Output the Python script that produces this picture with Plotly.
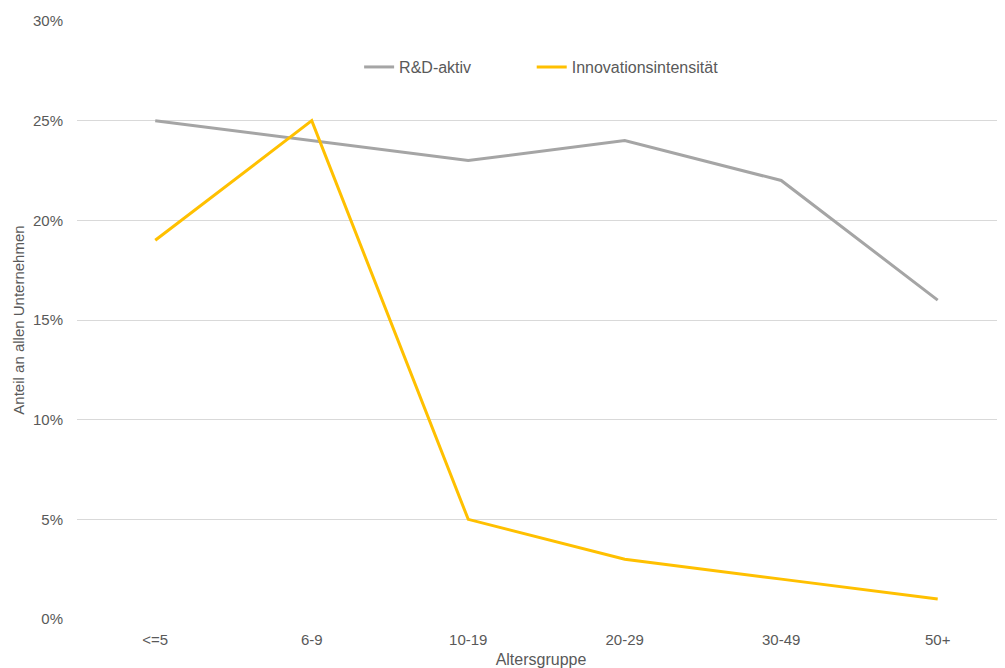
import plotly.graph_objects as go

categories = ["<=5", "6-9", "10-19", "20-29", "30-49", "50+"]
rnd_aktiv = [0.25, 0.24, 0.23, 0.24, 0.22, 0.16]
innovationsintensitaet = [0.19, 0.25, 0.05, 0.03, 0.02, 0.01]

font_color = "#595959"

fig = go.Figure()
fig.add_trace(
    go.Scatter(
        x=categories,
        y=rnd_aktiv,
        mode="lines",
        name="R&D-aktiv",
        line={"color": "#A5A5A5", "width": 3},
        legend="legend",
        showlegend=True,
    )
)
fig.add_trace(
    go.Scatter(
        x=categories,
        y=innovationsintensitaet,
        mode="lines",
        name="Innovationsintensität",
        line={"color": "#FFC000", "width": 3},
        legend="legend2",
        showlegend=True,
    )
)

legend_style = {
    "orientation": "h",
    "xanchor": "left",
    "y": 0.923,
    "yanchor": "middle",
    "font": {"size": 16, "color": font_color},
    "itemwidth": 30,
    "bgcolor": "rgba(0,0,0,0)",
}

# page body has an 8px margin, so the figure is sized to end at the window edge
fig.update_layout(
    width=997,
    height=660,
    margin={"t": 13, "b": 49, "l": 69, "r": 0},
    showlegend=True,
    paper_bgcolor="white",
    plot_bgcolor="white",
    font={"family": "Liberation Sans, Arial, sans-serif", "size": 15, "color": font_color},
    legend={**legend_style, "x": 0.304},
    legend2={**legend_style, "x": 0.490},
    xaxis={
        "range": [-0.5, 5.43],
        "showgrid": False,
        "showline": False,
        "zeroline": False,
        "ticks": "outside",
        "ticklen": 7,
        "tickcolor": "white",
        "title": {"text": "Altersgruppe", "font": {"size": 16}, "standoff": 8},
    },
    yaxis={
        "range": [0, 0.30],
        "dtick": 0.05,
        "tickformat": ".0%",
        "gridcolor": "#D9D9D9",
        "gridwidth": 1,
        "zeroline": False,
        "showline": False,
        "ticks": "outside",
        "ticklen": 10,
        "tickcolor": "white",
        "title": {"text": "Anteil an allen Unternehmen", "font": {"size": 15}, "standoff": 4},
    },
)

fig.write_html("out.html")
